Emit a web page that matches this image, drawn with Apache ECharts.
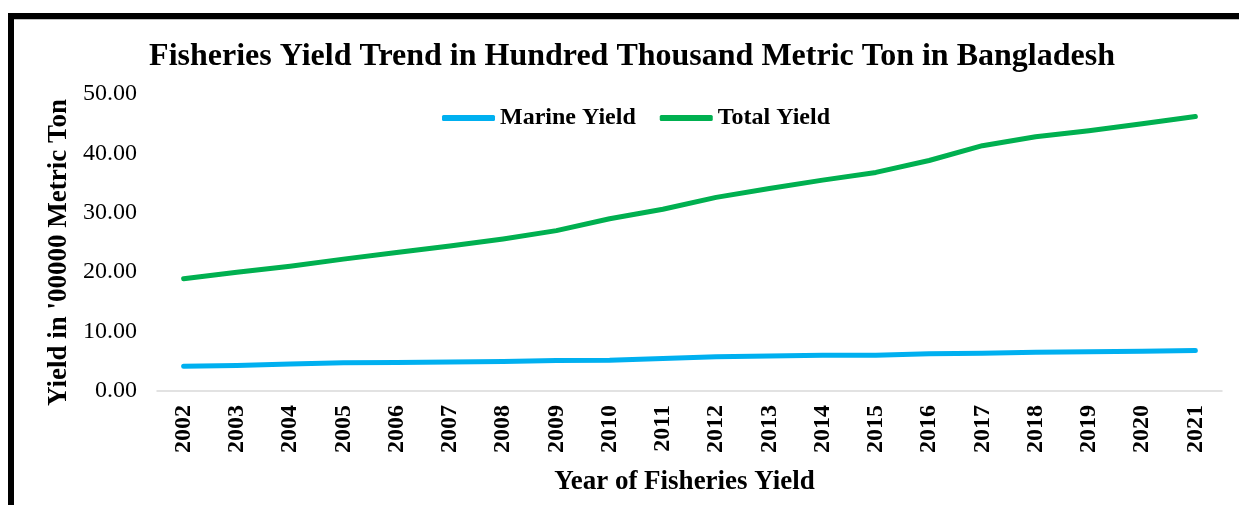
<!DOCTYPE html>
<html>
<head>
<meta charset="utf-8">
<script src="https://cdn.jsdelivr.net/npm/echarts@6/dist/echarts.min.js"></script>
<style>
html,body{margin:0;padding:0;background:#fff;}
#c{width:1239px;height:505px;}
</style>
</head>
<body>
<div id="c"></div>
<script>
const years = ['2002','2003','2004','2005','2006','2007','2008','2009','2010','2011','2012','2013','2014','2015','2016','2017','2018','2019','2020','2021'];
const marineYield = [4.15,4.31,4.55,4.75,4.80,4.88,4.98,5.15,5.17,5.46,5.78,5.88,6.00,6.00,6.27,6.37,6.54,6.59,6.71,6.81];
const totalYield = [18.9,20.0,21.0,22.2,23.3,24.4,25.6,27.0,29.0,30.6,32.6,34.1,35.5,36.8,38.8,41.3,42.8,43.8,45.0,46.2];
const yTicks = [0,10,20,30,40,50];

const serif = '"Liberation Serif","Times New Roman",serif';
const chart = echarts.init(document.getElementById('c'), null, {renderer:'canvas'});
chart.setOption({
  animation:false,
  backgroundColor:'#fff',
  title:{
    text:'Fisheries Yield Trend in Hundred Thousand Metric Ton in Bangladesh',
    left:627, top:36, textAlign:'center',
    textStyle:{fontFamily:serif, fontWeight:'bold', fontSize:32, color:'#000'}
  },
  legend:{
    top:101, left:437,
    itemWidth:53, itemHeight:6, itemGap:24,
    icon:'roundRect',
    textStyle:{fontFamily:serif, fontWeight:'bold', fontSize:24, color:'#000'},
    data:['Marine Yield','Total Yield']
  },
  grid:{left:157, right:17, top:94, bottom:114, containLabel:false},
  xAxis:{
    type:'category', data:years, boundaryGap:true,
    name:'Year of Fisheries Yield', nameLocation:'middle', nameGap:78,
    nameTextStyle:{fontFamily:serif, fontWeight:'bold', fontSize:27, color:'#000', padding:[0,10,0,0]},
    axisLine:{lineStyle:{color:'#d9d9d9', width:1.5}},
    axisTick:{show:false},
    axisLabel:{rotate:90, margin:14, fontFamily:serif, fontWeight:'bold', fontSize:24, color:'#000'}
  },
  yAxis:{
    type:'value', min:yTicks[0], max:yTicks[yTicks.length-1], interval:10,
    name:"Yield in '00000 Metric Ton", nameLocation:'middle', nameGap:78, nameRotate:90,
    nameTextStyle:{fontFamily:serif, fontWeight:'bold', fontSize:27, color:'#000', padding:[0,20,0,0]},
    axisLine:{show:false}, axisTick:{show:false}, splitLine:{show:false},
    axisLabel:{margin:20, fontFamily:serif, fontSize:24, color:'#000', formatter:v=>v.toFixed(2)}
  },
  series:[
    {name:'Marine Yield', type:'line', data:marineYield, symbol:'none', smooth:false,
     lineStyle:{color:'#00B0F0', width:5, cap:'round', join:'round'}, itemStyle:{color:'#00B0F0'}},
    {name:'Total Yield', type:'line', data:totalYield, symbol:'none', smooth:false,
     lineStyle:{color:'#00B050', width:5, cap:'round', join:'round'}, itemStyle:{color:'#00B050'}}
  ],
  graphic:[
    {type:'rect', shape:{x:8,y:13,width:1231,height:6}, style:{fill:'#000'}, silent:true},
    {type:'rect', shape:{x:8,y:19,width:1231,height:1}, style:{fill:'#bfbfbf'}, silent:true},
    {type:'rect', shape:{x:8,y:13,width:6,height:492}, style:{fill:'#000'}, silent:true}
  ]
});
</script>
</body>
</html>
